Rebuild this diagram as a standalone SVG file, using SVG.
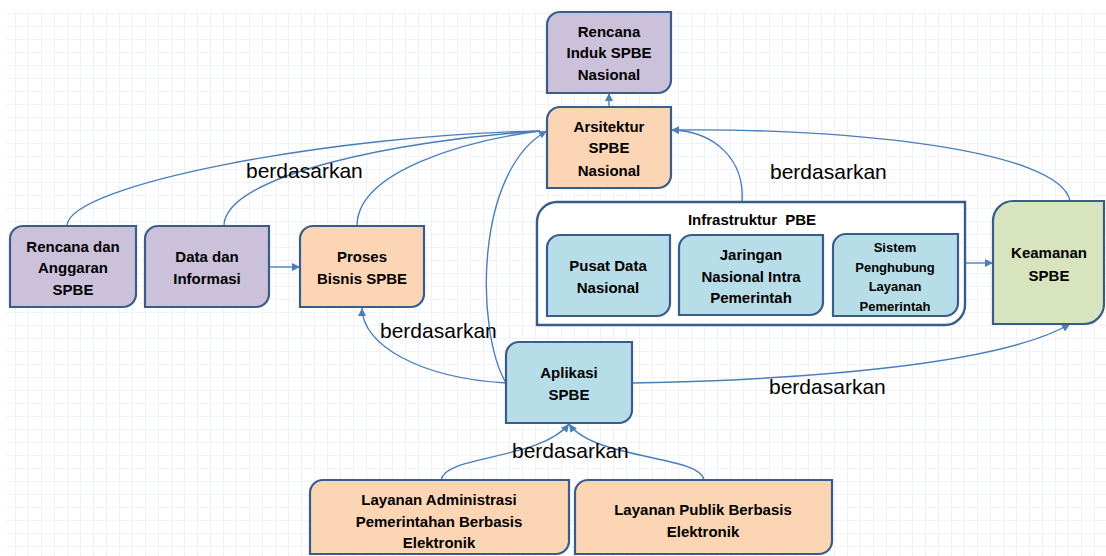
<svg xmlns="http://www.w3.org/2000/svg" width="1106" height="556" viewBox="0 0 1106 556">
  <defs>
    <pattern id="grid" x="3" y="1" width="13" height="13" patternUnits="userSpaceOnUse">
      <path d="M13,0 V13 M0,13 H13" fill="none" stroke="#eceff6" stroke-width="1.6"/>
    </pattern>
    <marker id="arrow" viewBox="0 0 10 10" refX="10" refY="5" markerWidth="9" markerHeight="8" markerUnits="userSpaceOnUse" orient="auto">
      <path d="M0,0 L10,5 L0,10 Z" fill="#4a7ebb"/>
    </marker>
    <style>
      .box { stroke: #385d8a; stroke-width: 2.2; }
      .purple { fill: #ccc1da; }
      .orange { fill: #fcd5b5; }
      .blue { fill: #b7dee8; }
      .green { fill: #d7e4bd; }
      .frame { fill: #ffffff; stroke: #385d8a; stroke-width: 2.4; }
      .lbl { font-family: "Liberation Sans", Arial, sans-serif; font-weight: bold; font-size: 15px; fill: #000; text-anchor: middle; }
      .small { font-size: 13px; }
      .edge { fill: none; stroke: #4a7ebb; stroke-width: 1.4; marker-end: url(#arrow); }
      .plain { fill: none; stroke: #4a7ebb; stroke-width: 1.4; }
      .rel { font-family: "Liberation Sans", Arial, sans-serif; font-size: 21px; fill: #000; }
    </style>
  </defs>

  <!-- background sheet with light grid -->
  <rect x="0" y="0" width="1106" height="556" fill="#ffffff"/>
  <rect x="6" y="10" width="1100" height="546" fill="url(#grid)"/>

  <!-- connectors -->
  <g id="connectors">
    <path class="plain" d="M67,226 C67,185 330,135 540,131"/>
    <path class="plain" d="M224,226 C224,175 400,140 540,131"/>
    <path class="plain" d="M357,226 C357,170 470,140 540,131"/>
    <path class="edge" d="M506,383 C475,330 475,170 547,131"/>
    <path class="edge" d="M506,383 C420,378 362,345 362,308"/>
    <path class="edge" d="M632,383 C800,380 1000,365 1070,324"/>
    <path class="plain" d="M1070,201 C1060,150 850,128 678,130"/>
    <path class="edge" d="M742,202 C745,160 715,131 671,130"/>
    <path class="edge" d="M441,480 C445,455 540,460 569,424"/>
    <path class="edge" d="M704,480 C700,455 595,460 569,424"/>
    <path class="edge" d="M269,267 L300,267"/>
    <path class="edge" d="M965,263 L993,263"/>
    <path class="edge" d="M609,107 L609,93"/>
  </g>

  <!-- relation labels -->
  <g id="labels">
    <text class="rel" x="246" y="178">berdasarkan</text>
    <text class="rel" x="770" y="179">berdasarkan</text>
    <text class="rel" x="380" y="338">berdasarkan</text>
    <text class="rel" x="769" y="394">berdasarkan</text>
    <text class="rel" x="512" y="458">berdasarkan</text>
  </g>

  <g id="n-rencana-induk">
    <path class="box purple" d="M560,12 H671 V80 A13,13 0 0 1 658,93 H547 V25 A13,13 0 0 1 560,12 Z"/>
    <text class="lbl" x="609" y="37">Rencana</text>
    <text class="lbl" x="609" y="58">Induk SPBE</text>
    <text class="lbl" x="609" y="80">Nasional</text>
  </g>

  <g id="n-arsitektur">
    <path class="box orange" d="M560,107 H671 V175 A13,13 0 0 1 658,188 H547 V120 A13,13 0 0 1 560,107 Z"/>
    <text class="lbl" x="609" y="132">Arsitektur</text>
    <text class="lbl" x="609" y="153">SPBE</text>
    <text class="lbl" x="609" y="176">Nasional</text>
  </g>

  <g id="n-rencana-anggaran">
    <path class="box purple" d="M23,226 H136 V294 A13,13 0 0 1 123,307 H10 V239 A13,13 0 0 1 23,226 Z"/>
    <text class="lbl" x="73" y="252">Rencana dan</text>
    <text class="lbl" x="73" y="273">Anggaran</text>
    <text class="lbl" x="73" y="295">SPBE</text>
  </g>

  <g id="n-data">
    <path class="box purple" d="M158,226 H269 V294 A13,13 0 0 1 256,307 H145 V239 A13,13 0 0 1 158,226 Z"/>
    <text class="lbl" x="207" y="262">Data dan</text>
    <text class="lbl" x="207" y="284">Informasi</text>
  </g>

  <g id="n-proses">
    <path class="box orange" d="M313,226 H424 V294 A13,13 0 0 1 411,307 H300 V239 A13,13 0 0 1 313,226 Z"/>
    <text class="lbl" x="362" y="262">Proses</text>
    <text class="lbl" x="362" y="284">Bisnis SPBE</text>
  </g>

  <g id="n-infrastruktur">
    <path class="frame" d="M557,202 H965 V305 A20,20 0 0 1 945,325 H537 V222 A20,20 0 0 1 557,202 Z"/>
    <text class="lbl" x="752" y="225" word-spacing="4">Infrastruktur PBE</text>
  </g>

  <g id="n-pusat-data">
    <path class="box blue" d="M560,235 H670 V303 A13,13 0 0 1 657,316 H547 V248 A13,13 0 0 1 560,235 Z"/>
    <text class="lbl" x="608" y="271">Pusat Data</text>
    <text class="lbl" x="608" y="293">Nasional</text>
  </g>

  <g id="n-jaringan">
    <path class="box blue" d="M692,235 H823 V302 A13,13 0 0 1 810,315 H679 V248 A13,13 0 0 1 692,235 Z"/>
    <text class="lbl" x="751" y="260">Jaringan</text>
    <text class="lbl" x="751" y="282">Nasional Intra</text>
    <text class="lbl" x="751" y="303">Pemerintah</text>
  </g>

  <g id="n-sistem">
    <path class="box blue" d="M846,234 H958 V303 A13,13 0 0 1 945,316 H833 V247 A13,13 0 0 1 846,234 Z"/>
    <text class="lbl small" x="895" y="252">Sistem</text>
    <text class="lbl small" x="895" y="272">Penghubung</text>
    <text class="lbl small" x="895" y="291">Layanan</text>
    <text class="lbl small" x="895" y="311">Pemerintah</text>
  </g>

  <g id="n-keamanan">
    <path class="box green" d="M1013,201 H1104 V304 A20,20 0 0 1 1084,324 H993 V221 A20,20 0 0 1 1013,201 Z"/>
    <text class="lbl" x="1049" y="258">Keamanan</text>
    <text class="lbl" x="1049" y="281">SPBE</text>
  </g>

  <g id="n-aplikasi">
    <path class="box blue" d="M519,342 H632 V410 A13,13 0 0 1 619,423 H506 V355 A13,13 0 0 1 519,342 Z"/>
    <text class="lbl" x="569" y="378">Aplikasi</text>
    <text class="lbl" x="569" y="400">SPBE</text>
  </g>

  <g id="n-layanan-administrasi">
    <path class="box orange" d="M323,480 H569 V541 A13,13 0 0 1 556,554 H310 V493 A13,13 0 0 1 323,480 Z"/>
    <text class="lbl" x="439" y="505">Layanan Administrasi</text>
    <text class="lbl" x="439" y="527">Pemerintahan Berbasis</text>
    <text class="lbl" x="439" y="548">Elektronik</text>
  </g>

  <g id="n-layanan-publik">
    <path class="box orange" d="M588,480 H832 V541 A13,13 0 0 1 819,554 H575 V493 A13,13 0 0 1 588,480 Z"/>
    <text class="lbl" x="703" y="515">Layanan Publik Berbasis</text>
    <text class="lbl" x="703" y="537">Elektronik</text>
  </g>
</svg>
